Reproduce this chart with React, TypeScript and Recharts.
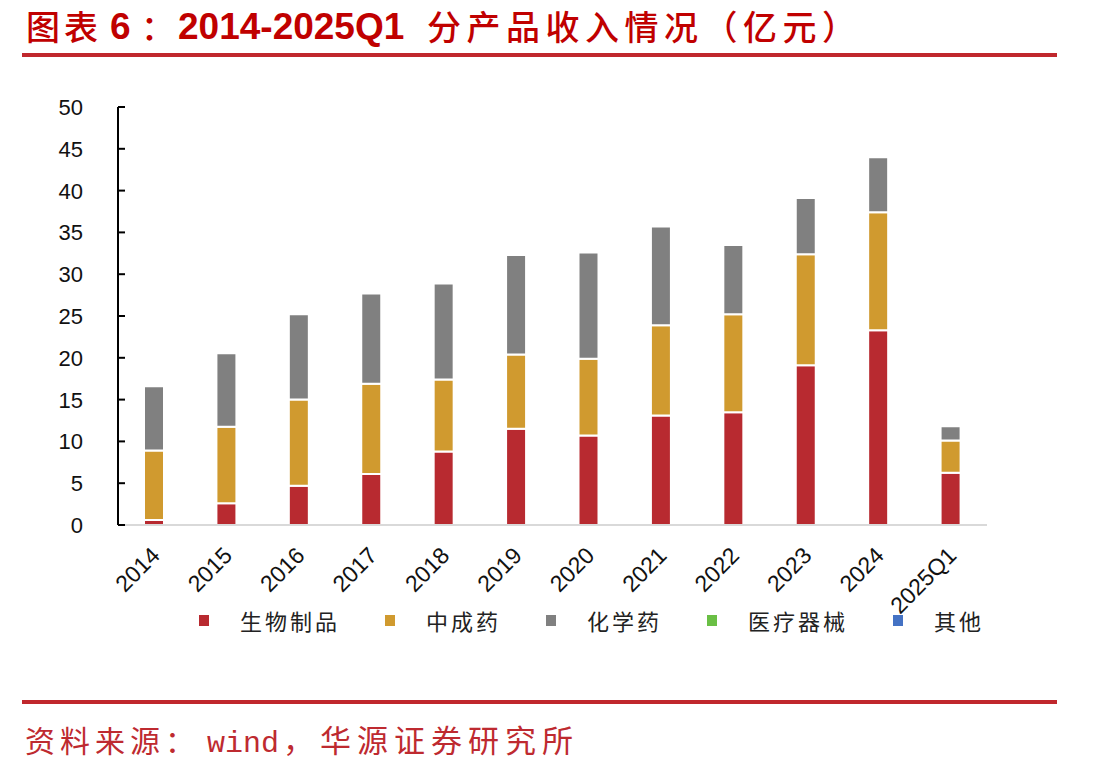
import React from 'react';
import { BarChart, Bar, XAxis, YAxis, Legend } from 'recharts';

const categories = ['2014', '2015', '2016', '2017', '2018', '2019', '2020', '2021', '2022', '2023', '2024', '2025Q1'];
const bioProducts = [0.6, 2.6, 4.7, 6.1, 8.8, 11.5, 10.7, 13.1, 13.5, 19.1, 23.3, 6.25];
const chinesePatent = [8.3, 9.15, 10.3, 10.8, 8.6, 8.9, 9.2, 10.8, 11.7, 13.3, 14.1, 3.85];
const chemicalDrugs = [7.7, 8.8, 10.2, 10.8, 11.5, 11.9, 12.7, 11.8, 8.3, 6.7, 6.6, 1.7];
const medicalDevices = [0, 0, 0, 0, 0, 0, 0, 0, 0, 0, 0, 0];
const others = [0, 0, 0, 0, 0, 0, 0, 0, 0, 0, 0, 0];
const yTicks = [0, 5, 10, 15, 20, 25, 30, 35, 40, 45, 50];

const seriesNames = ['生物制品', '中成药', '化学药', '医疗器械', '其他'];
const seriesKeys = ['bio', 'tcm', 'chem', 'device', 'other'];
const seriesColors = ['#B82A30', '#D09A2F', '#808080', '#6ABF45', '#4472C4'];

const data = categories.map((year, i) => ({
  year,
  bio: bioProducts[i],
  tcm: chinesePatent[i],
  chem: chemicalDrugs[i],
  device: medicalDevices[i],
  other: others[i],
}));

const TICK_FONT = '"Liberation Sans", Arial, sans-serif';
const CJK_FONT = '"Noto Sans CJK SC", "Noto Sans", sans-serif';

const YTick = (props: any) => {
  const { x, y, payload } = props;
  return (
    <g>
      <line x1={x + 35} x2={x + 42} y1={y} y2={y} stroke="#000" strokeWidth={2} />
      <text x={x} y={y} dy="0.36em" textAnchor="end" fontSize={22} fontFamily={TICK_FONT} fill="#111">
        {payload.value}
      </text>
    </g>
  );
};

const XTick = (props: any) => {
  const { x, y, payload } = props;
  const ax = x + 7;
  const ay = y + 32;
  return (
    <text
      x={ax}
      y={ay}
      transform={`rotate(-45 ${ax} ${ay})`}
      textAnchor="end"
      fontSize={23}
      fontFamily={TICK_FONT}
      fill="#111"
    >
      {payload.value}
    </text>
  );
};

const renderLegend = (props: any) => {
  const items = [...(props.payload || [])].sort(
    (a: any, b: any) => seriesNames.indexOf(a.value) - seriesNames.indexOf(b.value)
  );
  return (
    <div style={{ display: 'flex', alignItems: 'center', height: 30 }}>
      {items.map((entry: any, idx: number) => (
        <div key={idx} style={{ display: 'flex', alignItems: 'center', marginRight: 45 }}>
          <span style={{ display: 'inline-block', width: 10, height: 11, background: entry.color, marginRight: 31 }} />
          <span style={{ fontSize: 22, letterSpacing: 3, fontFamily: CJK_FONT, color: '#222', lineHeight: '30px' }}>
            {entry.value}
          </span>
        </div>
      ))}
    </div>
  );
};

export default function App() {
  return (
    <div style={{ position: 'absolute', left: 0, top: 0, width: 1113, height: 774, background: '#fff', overflow: 'hidden' }}>
      <div style={{ position: 'absolute', left: 0, top: 0 }}>
        <BarChart width={1113} height={774} data={data} margin={{ top: 107, right: 126, bottom: 189, left: 0 }}>
          <XAxis
            dataKey="year"
            height={60}
            interval={0}
            tickLine={false}
            tickSize={0}
            tickMargin={0}
            axisLine={{ stroke: '#D9D9D9', strokeWidth: 2 }}
            tick={<XTick />}
          />
          <YAxis
            width={118}
            domain={[0, 50]}
            ticks={yTicks}
            interval={0}
            tickLine={false}
            tickSize={0}
            tickMargin={35}
            axisLine={{ stroke: '#000', strokeWidth: 2 }}
            tick={<YTick />}
          />
          <Legend
            layout="horizontal"
            verticalAlign="middle"
            align="center"
            wrapperStyle={{ top: 605, left: 199, width: 900, height: 30 }}
            content={renderLegend}
          />
          {seriesKeys.map((k, i) => (
            <Bar
              key={k}
              dataKey={k}
              name={seriesNames[i]}
              stackId="a"
              fill={seriesColors[i]}
              stroke="#fff"
              strokeWidth={2}
              barSize={20}
              isAnimationActive={false}
            />
          ))}
        </BarChart>
      </div>
      <svg
        width={1113}
        height={774}
        style={{ position: 'absolute', left: 0, top: 0, pointerEvents: 'none' }}
      >
        <text x={26} y={40} fontSize={34} fontWeight={500} fontFamily={CJK_FONT} fill="#C00000" letterSpacing={4}>图表</text>
        <text x={110} y={39} fontSize={37} fontWeight="bold" fontFamily={TICK_FONT} fill="#C00000">6</text>
        <text x={141} y={40} fontSize={34} fontWeight={500} fontFamily={CJK_FONT} fill="#C00000">：</text>
        <text x={178} y={39} fontSize={37} fontWeight="bold" fontFamily={TICK_FONT} fill="#C00000">2014-2025Q1</text>
        <text x={427} y={40} fontSize={34} fontWeight={500} fontFamily={CJK_FONT} fill="#C00000" letterSpacing={5.5}>分产品收入情况（亿元）</text>
        <rect x={22} y={53} width={1035} height={4} fill="#C0272D" />
        <rect x={22} y={700} width={1035} height={4} fill="#C0272D" />
        <text x={25} y={752} fontSize={30} fontFamily={CJK_FONT} fill="#BE2A30" letterSpacing={5}>资料来源：</text>
        <text x={207} y={752} fontSize={30} fontFamily='"Liberation Mono", "DejaVu Sans Mono", monospace' fill="#BE2A30">wind</text>
        <text x={283} y={752} fontSize={31} fontFamily={CJK_FONT} fill="#BE2A30" letterSpacing={6}>，华源证券研究所</text>
      </svg>
    </div>
  );
}
